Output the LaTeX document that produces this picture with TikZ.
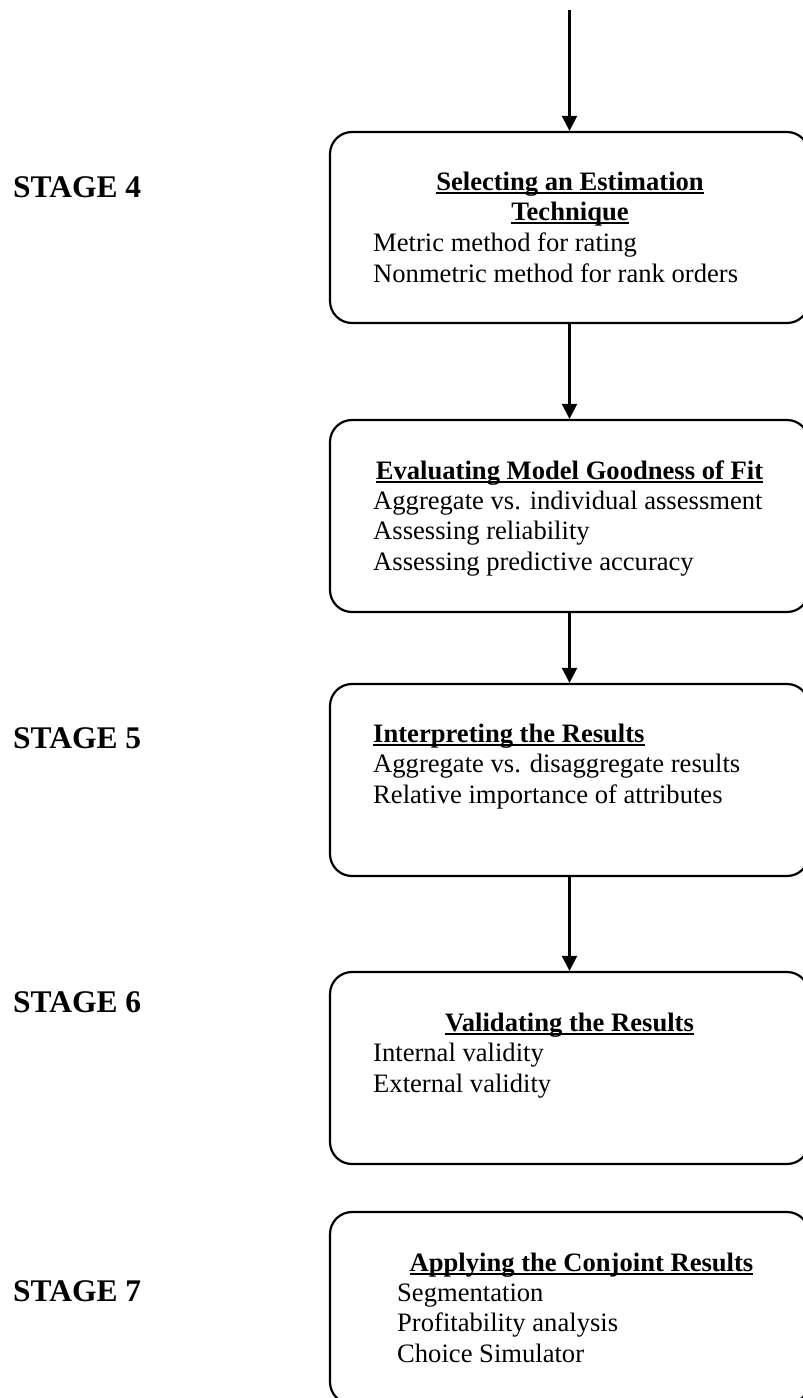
\documentclass[tikz,border=0pt]{standalone}
\usepackage{fontspec}
\setmainfont{Liberation Serif}
\usetikzlibrary{arrows.meta}
\newcommand\myul[1]{\setbox0=\hbox{#1}\rlap{\rule[-3.5pt]{\wd0}{1.9pt}}\box0}
\tikzset{
  box/.style={draw, line width=2.2pt, rounded corners=22pt, minimum width=479pt, minimum height=192pt, inner sep=0pt},
  arr/.style={line width=2.2pt, -{Triangle[width=15pt,length=15pt]}},
  body/.style={anchor=base west, inner sep=0pt, font=\fontsize{26.6}{30}\selectfont},
  head/.style={anchor=base, inner sep=0pt, font=\fontsize{26.6}{30}\selectfont\bfseries},
  headw/.style={anchor=base west, inner sep=0pt, font=\fontsize{26.6}{30}\selectfont\bfseries},
  stage/.style={anchor=base west, inner sep=0pt, font=\fontsize{31.5}{36}\selectfont\bfseries},
}
\begin{document}
\begin{tikzpicture}[x=1pt,y=-1pt]
\useasboundingbox (0,0) rectangle (803,1398);
\clip (0,0) rectangle (803,1398);
% boxes
\node[box, minimum height=191pt] (b1) at (569.5,227.5) {};
\node[box] (b2) at (569.5,516) {};
\node[box] (b3) at (569.5,780) {};
\node[box] (b4) at (569.5,1068) {};
\node[box] (b5) at (569.5,1308) {};
% connectors
\coordinate (top) at (569.5,10);
\draw[arr] (top) -- (b1.north);
\draw[arr] (b1.south) -- (b2.north);
\draw[arr] (b2.south) -- (b3.north);
\draw[arr] (b3.south) -- (b4.north);
% stage labels
\node[stage] (s4) at (13,197) {STAGE 4};
\node[stage] (s5) at (13,748) {STAGE 5};
\node[stage] (s6) at (13,1012) {STAGE 6};
\node[stage] (s7) at (13,1301) {STAGE 7};
% box 1
\node[head] (h1a) at (570,190.5) {\myul{Selecting an Estimation}};
\node[head] (h1b) at (570,220) {\myul{Technique}};
\node[body] (t1a) at (373,251) {Metric method for rating};
\node[body] (t1b) at (373,282) {Nonmetric method for rank orders};
% box 2
\node[head] (h2) at (569.5,479) {\myul{Evaluating Model Goodness of Fit}};
\node[body] (t2a) at (373,509) {Aggregate vs. individual assessment};
\node[body] (t2b) at (373,539.5) {Assessing reliability};
\node[body] (t2c) at (373,570) {Assessing predictive accuracy};
% box 3
\node[headw] (h3) at (373,742) {\myul{Interpreting the Results}};
\node[body] (t3a) at (373,772.5) {Aggregate vs. disaggregate results};
\node[body] (t3b) at (373,803) {Relative importance of attributes};
% box 4
\node[head] (h4) at (569.5,1031.5) {\myul{Validating the Results}};
\node[body] (t4a) at (373,1061.5) {Internal validity};
\node[body] (t4b) at (373,1092) {External validity};
% box 5
\node[head] (h5) at (581.5,1271) {\myul{Applying the Conjoint Results}};
\node[body] (t5a) at (397,1301) {Segmentation};
\node[body] (t5b) at (397,1331.5) {Profitability analysis};
\node[body] (t5c) at (397,1362) {Choice Simulator};
\end{tikzpicture}
\end{document}
